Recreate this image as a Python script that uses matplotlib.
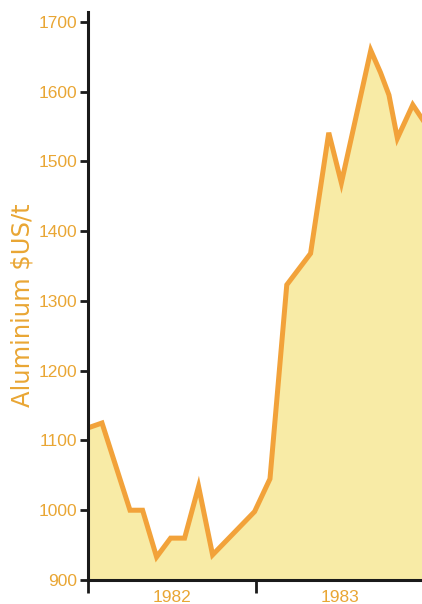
import matplotlib

matplotlib.use("Agg")
import matplotlib.pyplot as plt
from matplotlib.ticker import FixedLocator, NullFormatter, FixedFormatter

# months counted from January 1982
months = [0.0, 1.0, 3.0, 3.9, 4.9, 5.9, 6.9, 7.9, 8.9, 11.9, 13.0, 14.2,
          15.9, 17.2, 18.1, 20.2, 20.9, 21.5, 22.1, 23.2, 23.9]
price = [1118, 1125, 1000, 1000, 933, 960, 960, 1034, 936, 998, 1045, 1323,
         1368, 1541, 1469, 1659, 1627, 1595, 1533, 1581, 1560]

year_ticks = [0, 12]
year_label_pos = [6, 18]
year_labels = ["1982", "1983"]
price_ticks = [900, 1000, 1100, 1200, 1300, 1400, 1500, 1600, 1700]

label_color = "#e9a634"
line_color = "#f2a23a"
fill_color = "#f8eba6"

plt.rcParams["font.family"] = ["Liberation Sans", "DejaVu Sans"]

fig = plt.figure(figsize=(4.22, 6.04), dpi=100)
ax = fig.add_axes([88 / 422, 24 / 604, 1 - 88 / 422, 568 / 604])

ax.fill_between(months, price, 900, color=fill_color, lw=0, zorder=1)
ax.plot(months, price, color=line_color, lw=3.6, solid_joinstyle="miter", zorder=2)

ax.set_xlim(0, 23.86)
ax.set_ylim(900, 1714)

for side in ("top", "right"):
    ax.spines[side].set_visible(False)
for side in ("left", "bottom"):
    ax.spines[side].set_linewidth(2.2)
    ax.spines[side].set_color("#1a1a1a")
    ax.spines[side].set_zorder(3)

ax.set_yticks(price_ticks)
ax.tick_params(axis="y", length=6, width=2, color="#1a1a1a", pad=2,
               labelsize=12.5, labelcolor=label_color)

ax.xaxis.set_major_locator(FixedLocator(year_ticks))
ax.xaxis.set_major_formatter(NullFormatter())
ax.xaxis.set_minor_locator(FixedLocator(year_label_pos))
ax.xaxis.set_minor_formatter(FixedFormatter(year_labels))
ax.tick_params(axis="x", which="major", length=9, width=2, color="#1a1a1a")
ax.tick_params(axis="x", which="minor", length=0, pad=7,
               labelsize=12.5, labelcolor=label_color)

ax.set_ylabel("Aluminium $US/t", color=label_color, fontsize=17.5,
              family="DejaVu Sans")
ax.yaxis.set_label_coords(-0.16, 0.483)

fig.savefig("out.png", dpi=100)
